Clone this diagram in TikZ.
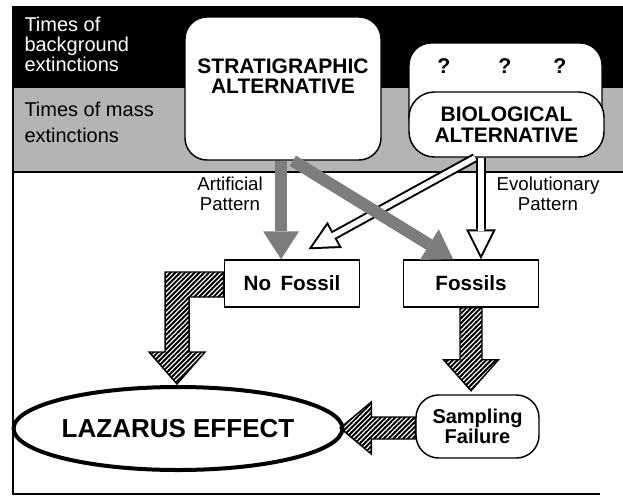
\documentclass[tikz,border=0pt]{standalone}
\usepackage{fontspec}
\setmainfont{Liberation Sans}
\usetikzlibrary{arrows.meta,shapes.geometric,patterns,calc}

\definecolor{bandgray}{RGB}{180,180,180}
\definecolor{arrowgray}{RGB}{125,125,125}

\tikzset{
pattern size/.store in=\mcSize, 
pattern size = 3.6pt,
pattern thickness/.store in=\mcThickness, 
pattern thickness = 1.4pt}
\pgfdeclarepatternformonly[\mcThickness,\mcSize]{_hatch}
{\pgfqpoint{0pt}{0pt}}
{\pgfpoint{\mcSize+\mcThickness}{\mcSize+\mcThickness}}
{\pgfpoint{\mcSize}{\mcSize}}
{
\pgfsetlinewidth{\mcThickness}
\pgfpathmoveto{\pgfqpoint{0pt}{0pt}}
\pgfpathlineto{\pgfpoint{\mcSize+\mcThickness}{\mcSize+\mcThickness}}
\pgfusepath{stroke}
}
\tikzset{every picture/.style={line width=0.75pt}}
\tikzset{
rndbox/.style={draw, fill=white, rounded corners=16.5pt, line width=1.1pt, inner sep=0pt, align=center, font=\fontsize{15.75}{15.5}\selectfont\bfseries},
sqbox/.style={draw, fill=white, line width=1.1pt, inner sep=0pt, minimum width=101.6pt, minimum height=35.25pt, font=\fontsize{15.5}{15.5}\selectfont\bfseries},
qmark/.style={inner sep=0pt, font=\fontsize{16}{16}\selectfont\bfseries},
bandlabel/.style={anchor=north west, inner sep=0pt, align=left, font=\fontsize{15}{15}\selectfont},
pathlabel/.style={inner sep=0pt, align=center, font=\fontsize{14}{15}\selectfont},
grayarrow/.style={color=arrowgray, line width=9pt, -{Triangle[length=21pt, width=27pt, line width=0pt]}},
hollowout/.style={color=black, line width=7pt, -{Triangle[length=22.5pt, width=22.5pt, line width=0pt]}},
hollowin/.style={color=white, line width=4pt, shorten >=3.35pt, -{Triangle[length=17.65pt, width=17.65pt, line width=0pt]}},
hatchfill/.style={draw, line width=1.1pt, line join=miter, pattern=_hatch, pattern size=3.6pt, pattern thickness=1.4pt}
}

\begin{document}
\begin{tikzpicture}[x=0.75pt,y=0.75pt,yscale=-1,xscale=1]
\useasboundingbox (0,0) rectangle (623,496);

%Shape: Rectangle (background extinctions band)
\fill [black] (13,6) rectangle (623,88);
%Shape: Rectangle (mass extinctions band)
\fill [bandgray] (13,88) rectangle (623,172);
\draw [line width=1.5pt] (13,172) -- (623,172);
%Straight Lines (frame)
\draw [line width=1.1pt] (13,6) -- (13,494) -- (600,494);

% Text Node
\draw (24,17) node (bgtimes) [bandlabel, text=white] {Times of\\background\\extinctions};
% Text Node
\draw (24,102) node (masstimes) [bandlabel, font=\fontsize{15}{19.5}\selectfont] {Times of mass\\extinctions};

%Rounded Rect
\draw (283,88.5) node (strat) [rndbox, minimum width=147pt, minimum height=107.25pt] {STRATIGRAPHIC\\ALTERNATIVE\\[3pt]};
%Rounded Rect
\draw (505.5,91.5) node (bioq) [rndbox, minimum width=144.75pt, minimum height=72.75pt] {};
\draw (444,66) node (q1) [qmark] {?};
\draw (505,66) node (q2) [qmark] {?};
\draw (560,66) node (q3) [qmark] {?};
%Rounded Rect
\draw (506.5,124.5) node (bio) [rndbox, rounded corners=19pt, minimum width=146.25pt, minimum height=48.75pt] {BIOLOGICAL\\ALTERNATIVE};

%Shape: Rectangle
\draw (292,283.5) node (nofossil) [sqbox] {No\hspace{0.45em}Fossil};
%Shape: Rectangle
\draw (471,283.5) node (fossils) [sqbox] {Fossils};
%Rounded Rect
\draw (477.5,426.5) node (sampling) [rndbox, rounded corners=17pt, minimum width=92.25pt, minimum height=47.25pt, font=\fontsize{15}{15}\selectfont\bfseries] {Sampling\\Failure};
%Shape: Ellipse
\draw (178,428.5) node (lazarus) [ellipse, draw, line width=3pt, inner sep=0pt, minimum width=225pt, minimum height=62.25pt, font=\fontsize{19.5}{20}\selectfont\bfseries] {LAZARUS EFFECT};

% Text Node
\draw (230,194) node (artlabel) [pathlabel] {Artificial\\Pattern};
% Text Node
\draw (548,194) node (evolabel) [pathlabel] {Evolutionary\\Pattern};

%Straight Lines (evolutionary pattern)
\coordinate (bd) at ($(bio.south west)!0.34!(bio.south east)$);
\coordinate (bv) at ($(bio.south west)!0.37!(bio.south east)$);
\coordinate (nfe) at ($(nofossil.north west)!0.62!(nofossil.north east)+(0,-10)$);
\draw [hollowout] (bd) -- (nfe);
\draw [hollowout] (bv) -- (bv |- fossils.north);
\draw [hollowin] (bd) -- (nfe);
\draw [hollowin] (bv) -- (bv |- fossils.north);

%Straight Lines (artificial pattern)
\coordinate (sv) at ($(strat.south west)!0.49!(strat.south east)$);
\coordinate (sd) at ($(strat.south west)!0.55!(strat.south east)$);
\coordinate (fnw) at ($(fossils.north west)!0.37!(fossils.north east)$);
\draw [grayarrow] (sv) -- (sv |- nofossil.north);
\draw [grayarrow] (sd) -- (fnw);

%Shape: Block Arrows
\draw [hatchfill] (nofossil.west) ++(0,-11.5) -- ++(-58.5,0) -- ++(0,80) -- ++(-16,0) -- ++(28,32) -- ++(28,-32) -- ++(-16,0) -- ++(0,-55) -- ++(34.5,0) -- cycle;
\draw [hatchfill] (fossils.south) ++(-11,0) -- ++(0,52) -- ++(-16.5,0) -- ++(27.5,31) -- ++(27.5,-31) -- ++(-16.5,0) -- ++(0,-52) -- cycle;
\draw [hatchfill] (sampling.west) ++(0,-9.5) -- ++(-44,0) -- ++(0,-15) -- ++(-31,26) -- ++(31,26) -- ++(0,-15) -- ++(44,0) -- cycle;

\end{tikzpicture}
\end{document}
